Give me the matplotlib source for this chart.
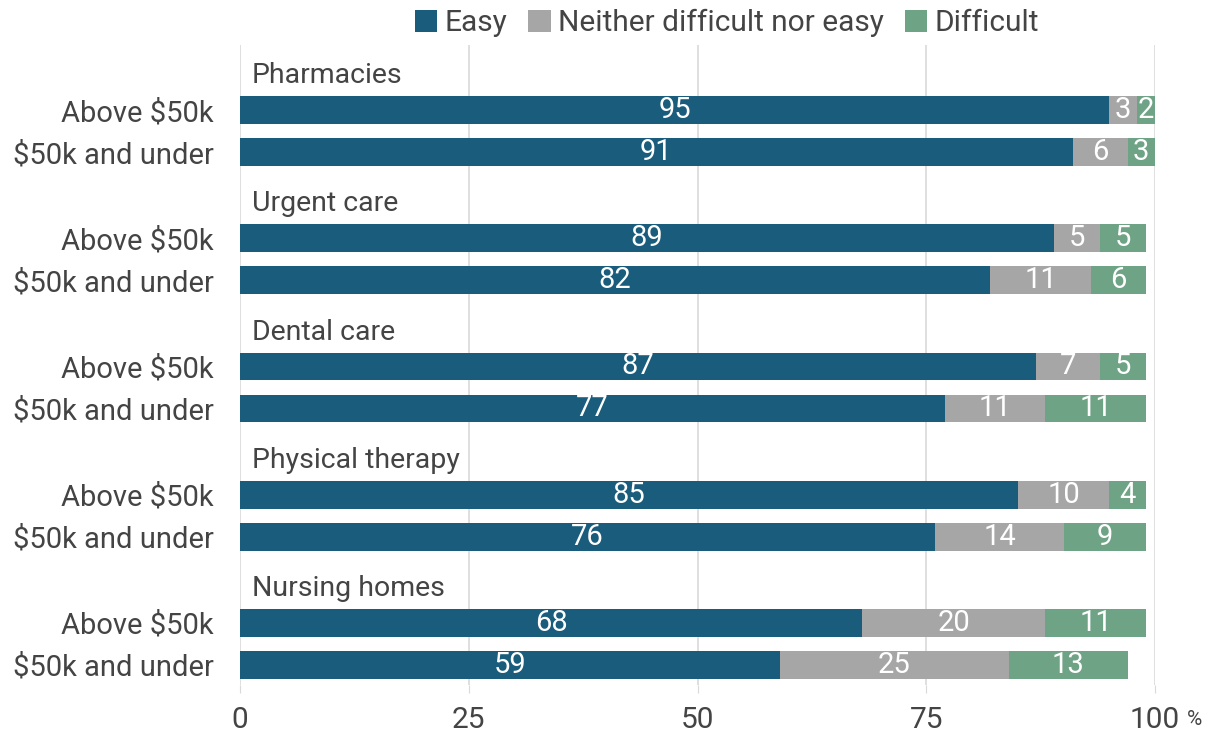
import matplotlib.pyplot as plt

plt.rcParams['font.family'] = ['Roboto', 'DejaVu Sans']

groups = ['Pharmacies', 'Urgent care', 'Dental care', 'Physical therapy', 'Nursing homes']
rows = ['Above $50k', '$50k and under']
series = ['Easy', 'Neither difficult nor easy', 'Difficult']

# values per group, [above, under]
easy = [[95, 91], [89, 82], [87, 77], [85, 76], [68, 59]]
neither = [[3, 6], [5, 11], [7, 11], [10, 14], [20, 25]]
difficult = [[2, 3], [5, 6], [5, 11], [4, 9], [11, 13]]

colors = ['#195C7C', '#A6A6A6', '#6FA386']
txt = '#444444'

fig = plt.figure(figsize=(12.06, 7.36), dpi=100)
ax = fig.add_axes([240 / 1206, 1 - 685 / 736, 915 / 1206, 640 / 736])

step = 3.05
ypos, ylabels = [], []
for g in range(len(groups)):
    for r in range(2):
        y = g * step + r
        ypos.append(y)
        ylabels.append(rows[r])
        left = 0
        for s, vals in enumerate([easy, neither, difficult]):
            v = vals[g][r]
            ax.barh(y, v, left=left, height=0.66, color=colors[s], zorder=2,
                    label=series[s] if (g == 0 and r == 0) else None)
            ax.text(left + v / 2, y, str(v), ha='center', va='center',
                    color='white', fontsize=21, zorder=3)
            left += v
    ax.text(1.3, g * step - 0.82, groups[g], ha='left', va='center',
            fontsize=20.5, color=txt)

ax.set_yticks(ypos)
ax.set_yticklabels(ylabels, fontsize=21, color=txt)
ax.set_ylim(3.05 * 4 + 1 + 0.48, -1.55)
ax.set_xlim(0, 100)
ax.set_xticks([0, 25, 50, 75, 100])
ax.set_xticklabels(['0', '25', '50', '75', '100'], fontsize=21.5, color=txt)
ax.annotate('%', xy=(1, 0), xycoords='axes fraction', xytext=(32, -25),
            textcoords='offset pixels', fontsize=15, color=txt,
            ha='left', va='top')
ax.tick_params(axis='y', length=0, pad=19)
ax.tick_params(axis='x', length=6, color='#d9d9d9', pad=9)
for sp in ax.spines.values():
    sp.set_visible(False)
ax.grid(axis='x', color='#d9d9d9', linewidth=1.2, zorder=0)
ax.set_axisbelow(True)

fig.legend(loc='center', bbox_to_anchor=(727 / 1206, 1 - 23 / 736), ncol=3,
           frameon=False, fontsize=21.5, handlelength=0.75, handleheight=0.75,
           handletextpad=0.25, columnspacing=0.7, labelcolor=txt)

fig.savefig('out.png', dpi=100)
